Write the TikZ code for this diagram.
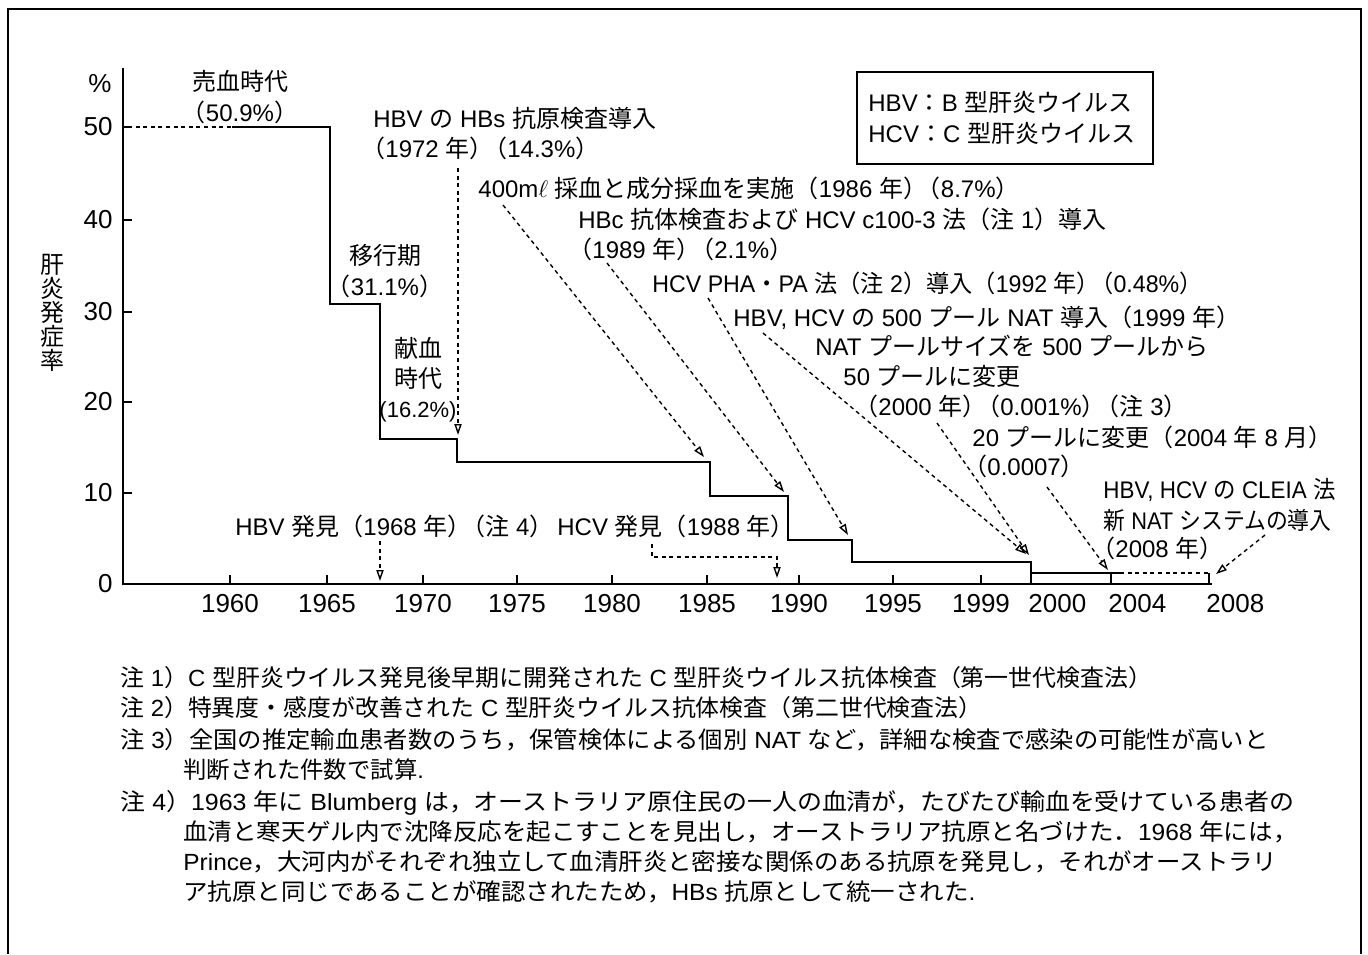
\documentclass[tikz,border=0pt]{standalone}
\usepackage{fontspec}
\usepackage{graphicx}
\setmainfont{Liberation Sans}
\newfontfamily\jpfont{Noto Sans CJK JP}
\XeTeXinterchartokenstate=1
\newXeTeXintercharclass\jpclass
\newcount\jpc
\jpc="3000
\loop
  \XeTeXcharclass\jpc=\jpclass
  \ifnum\jpc<"9FFF
  \advance\jpc by 1
\repeat
\jpc="FF00
\loop
  \XeTeXcharclass\jpc=\jpclass
  \ifnum\jpc<"FFEF
  \advance\jpc by 1
\repeat
\XeTeXinterchartoks 0 \jpclass = {\begingroup\jpfont}
\XeTeXinterchartoks 4095 \jpclass = {\begingroup\jpfont}
\XeTeXinterchartoks \jpclass 0 = {\endgroup}
\XeTeXinterchartoks \jpclass 4095 = {\endgroup}
\newcommand\lp{\kern-.5em}
\newcommand\pp{）\kern-.42em（}
\newcommand\fitw[2]{\resizebox{#1}{\height}{#2}}
\usetikzlibrary{arrows.meta}
\begin{document}
\begin{tikzpicture}[x=0.5pt,y=-0.5pt,
  every node/.style={inner sep=0pt},
  lbl/.style={font=\fontsize{12}{14}\selectfont, anchor=base west},
  clbl/.style={font=\fontsize{12}{14}\selectfont, anchor=base},
  note/.style={font=\fontsize{11.7}{14}\selectfont, anchor=base west},
  ticklbl/.style={font=\fontsize{13}{16}\selectfont},
  axisline/.style={line width=1pt},
  stepline/.style={line width=1pt},
  dsh/.style={line width=0.7pt, dash pattern=on 2pt off 1.8pt},
  arr/.style={dsh, -{Triangle[open,length=5.5pt,width=3.6pt]}},
  frameline/.style={line width=0.8pt},
]
\useasboundingbox (0,0) rectangle (1368,954);
\fill[white] (0,0) rectangle (1368,954);

% outer frame (open at bottom)
\draw[frameline] (8,954) -- (8,9) -- (1361,9) -- (1361,954);

% axes
\coordinate (O) at (123,584);
\coordinate (Ytop) at (123,68);
\coordinate (Xend) at (1212,584);
\draw[axisline] (Ytop) -- (O) -- (Xend);

% y ticks and labels
\foreach \yy/\v in {127/50,220/40,312/30,402/20,493/10}{
  \draw[line width=0.8pt] (123,\yy) -- (132,\yy);
}
\foreach \yy/\v in {127/50,220/40,312/30,402/20,493/10,584/0}{
  \node[ticklbl, anchor=east] (yl\v) at (113,\yy) {\v};
}
\node[ticklbl] (pct) at (100,84) {\%};
\node[font=\fontsize{12}{12}\selectfont, align=center] (ylab) at (52,313) {肝\\炎\\発\\症\\率};

% x ticks and labels
\foreach \xx/\yr in {230/1960,327/1965,423/1970,517/1975,612/1980,707/1985,799/1990,893/1995,981/1999}{
  \draw[line width=0.8pt] (\xx,584) -- (\xx,575);
  \node[ticklbl] (xl\yr) at (\xx,604) {\yr};
}
\foreach \xx/\yr in {1031/2000,1111/2004,1209/2008}{
  \draw[line width=0.8pt] (\xx,584) -- (\xx,573);
  \node[ticklbl, anchor=west] (xl\yr) at (\xx-3,604) {\yr};
}

% step curve
\draw[dsh] (128,127) -- (232,127);
\draw[stepline] (232,127) -- (330,127) -- (330,304) -- (380,304) -- (380,439)
  -- (457,439) -- (457,462) -- (710,462) -- (710,496) -- (788,496) -- (788,540)
  -- (852,540) -- (852,562) -- (1031,562) -- (1031,573) -- (1120,573);
\draw[dsh] (1120,573) -- (1210,573);

% legend
\draw[frameline] (857,72) rectangle (1153,164);
\node[lbl] (leg1) at (868,111) {HBV：B 型肝炎ウイルス};
\node[lbl] (leg2) at (868,142) {HCV：C 型肝炎ウイルス};

% labels
\node[clbl] (baiketsu) at (240,90) {売血時代};
\node[clbl] (baiketsuP) at (240,121) {\lp（50.9\%）\lp};
\node[lbl] (hbs1) at (373,127) {HBV の HBs 抗原検査導入};
\node[lbl] (hbs2) at (373,157) {\lp（1972 年\pp 14.3\%）};
\node[lbl] (l1986) at (478,197) {400m$\ell$ 採血と成分採血を実施（1986 年\pp 8.7\%）};
\node[lbl] (l1989a) at (578,228) {HBc 抗体検査および HCV c100-3 法（注 1）導入};
\node[lbl] (l1989b) at (580,258) {\lp（1989 年\pp 2.1\%）};
\node[lbl] (l1992) at (652,292) {\fitw{275pt}{HCV PHA・PA 法（注 2）導入（1992 年\pp 0.48\%）}};
\node[lbl] (l1999) at (733,326) {HBV, HCV の 500 プール NAT 導入（1999 年）};
\node[lbl] (l2000a) at (815,355) {NAT プールサイズを 500 プールから};
\node[lbl] (l2000b) at (843,385) {50 プールに変更};
\node[lbl] (l2000c) at (866,415) {\lp（2000 年\pp 0.001\%\pp 注 3）};
\node[lbl] (l2004a) at (972,446) {20 プールに変更（2004 年 8 月）};
\node[lbl] (l2004b) at (975,475) {\lp（0.0007）};
\node[lbl] (l2008a) at (1103,498) {\fitw{116pt}{HBV, HCV の CLEIA 法}};
\node[lbl] (l2008b) at (1103,529) {\fitw{114pt}{新 NAT システムの導入}};
\node[lbl] (l2008c) at (1103,557) {\lp（2008 年）};
\node[clbl] (ikou) at (385,264) {移行期};
\node[clbl] (ikouP) at (385,295) {\lp（31.1\%）\lp};
\node[clbl] (kenketsu1) at (418,357) {献血};
\node[clbl] (kenketsu2) at (418,387) {時代};
\node[clbl, font=\fontsize{11}{13}\selectfont] (kenketsuP) at (418,417) {(16.2\%)};
\node[lbl] (hbvfind) at (235,535) {HBV 発見（1968 年\pp 注 4）};
\node[lbl] (hcvfind) at (557,535) {HCV 発見（1988 年）};

% arrow end points
\coordinate (s1972) at (458,168); \coordinate (e1972) at (458,435);
\coordinate (s1986) at (503,205); \coordinate (e1986) at (704,457);
\coordinate (s1989) at (607,263); \coordinate (e1989) at (784,492);
\coordinate (s1992) at (708,298); \coordinate (e1992) at (848,535);
\coordinate (s1999) at (763,333); \coordinate (e1999) at (1026,554);
\coordinate (s2000) at (937,423); \coordinate (e2000) at (1029,555);
\coordinate (s2004) at (1047,487); \coordinate (e2004) at (1108,570);
\coordinate (s2008) at (1265,535); \coordinate (e2008) at (1216,574);
\coordinate (s1968) at (380,541); \coordinate (e1968) at (380,581);
\coordinate (s1988) at (652,544); \coordinate (m1988a) at (652,557);
\coordinate (m1988b) at (777,557); \coordinate (e1988) at (777,578);

\draw[arr] (s1972) -- (e1972);
\draw[arr] (s1986) -- (e1986);
\draw[arr] (s1989) -- (e1989);
\draw[arr] (s1992) -- (e1992);
\draw[arr] (s1999) -- (e1999);
\draw[arr] (s2000) -- (e2000);
\draw[arr] (s2004) -- (e2004);
\draw[arr] (s2008) -- (e2008);
\draw[arr] (s1968) -- (e1968);
\draw[arr] (s1988) -- (m1988a) -- (m1988b) -- (e1988);

% notes
\node[note] (n1) at (120,686) {\fitw{516pt}{注 1）C 型肝炎ウイルス発見後早期に開発された C 型肝炎ウイルス抗体検査（第一世代検査法）}};
\node[note] (n2) at (120,716) {\fitw{431pt}{注 2）特異度・感度が改善された C 型肝炎ウイルス抗体検査（第二世代検査法）}};
\node[note] (n3) at (120,748) {\fitw{574pt}{注 3）全国の推定輸血患者数のうち，保管検体による個別 NAT など，詳細な検査で感染の可能性が高いと}};
\node[note] (n3b) at (183,778) {判断された件数で試算.};
\node[note] (n4) at (120,810) {\fitw{587pt}{注 4）1963 年に Blumberg は，オーストラリア原住民の一人の血清が，たびたび輸血を受けている患者の}};
\node[note] (n4b) at (183,840) {\fitw{557pt}{血清と寒天ゲル内で沈降反応を起こすことを見出し，オーストラリア抗原と名づけた．1968 年には，}};
\node[note] (n4c) at (183,870) {\fitw{547pt}{Prince，大河内がそれぞれ独立して血清肝炎と密接な関係のある抗原を発見し，それがオーストラリ}};
\node[note] (n4d) at (183,900) {\fitw{396pt}{ア抗原と同じであることが確認されたため，HBs 抗原として統一された.}};
\end{tikzpicture}
\end{document}
